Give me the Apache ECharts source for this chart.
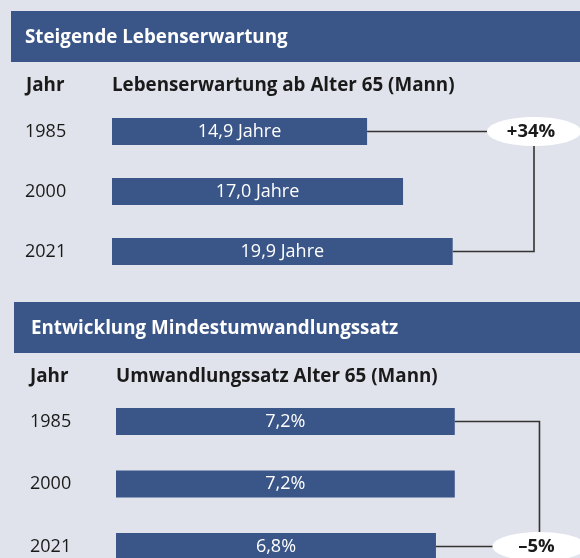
<!DOCTYPE html>
<html>
<head>
<meta charset="utf-8">
<script src="https://cdn.jsdelivr.net/npm/echarts@6/dist/echarts.min.js"></script>
<style>
  html, body { margin: 0; padding: 0; background: #e0e3eb; }
  #chart { width: 580px; height: 558px; }
</style>
</head>
<body>
<div id="chart"></div>
<script>
// Daten
var years = ["1985", "2000", "2021"];
var lifeExp = [14.9, 17.0, 19.9];      // Lebenserwartung ab 65 (Mann), Jahre
var convRate = [7.2, 7.2, 6.8];        // Mindestumwandlungssatz, %
var lifeChange = "+34%";
var convChange = "–5%";

var blue = "#3a5587";
var ink = "#1a1a1a";
var font = "Open Sans";
var headSize = 18.8;

function comma(v) {
  return v.toFixed(1).replace(".", ",");
}

// Klammer von Balken "from" zu Balken "to", Ellipse auf Zeile "at"
function bracket(values, bx, text, at) {
  return function (params, api) {
    var from = api.value(0), to = api.value(1);
    var a = api.coord([values[from], from]);
    var b = api.coord([values[to], to]);
    var x = api.coord([bx, 0])[0];
    var e = api.coord([bx, at]);
    return {
      type: "group",
      children: [
        {
          type: "polyline",
          shape: { points: [a, [x, a[1]], [x, b[1]], b] },
          style: { stroke: "#333", lineWidth: 1.6, fill: null }
        },
        {
          type: "ellipse",
          shape: { cx: e[0], cy: e[1], rx: 47, ry: 14.5 },
          style: { fill: "#fff" }
        },
        {
          type: "text",
          x: e[0] - 3, y: e[1],
          style: {
            text: text, fill: ink, fontFamily: font, fontWeight: "bold",
            fontSize: 18.5, align: "center", verticalAlign: "middle"
          }
        }
      ]
    };
  };
}

var chartDom = document.getElementById("chart");
var myChart = echarts.init(chartDom);

var option = {
  animation: false,
  backgroundColor: "#e0e3eb",
  textStyle: { fontFamily: font },
  grid: [
    { left: 112, top: 101.5, width: 428, height: 180, outerBoundsMode: "none", containLabel: false },
    { left: 116, top: 390.25, width: 447, height: 187.5, outerBoundsMode: "none", containLabel: false }
  ],
  xAxis: [
    { gridIndex: 0, type: "value", min: 0, max: 25, show: false },
    { gridIndex: 1, type: "value", min: 0, max: 9.5, show: false }
  ],
  yAxis: [
    {
      gridIndex: 0, type: "category", data: years, inverse: true,
      axisLine: { show: false }, axisTick: { show: false },
      axisLabel: { align: "left", margin: 87, fontSize: 18, color: ink, fontFamily: font }
    },
    {
      gridIndex: 1, type: "category", data: years, inverse: true,
      axisLine: { show: false }, axisTick: { show: false },
      axisLabel: { align: "left", margin: 86, fontSize: 18, color: ink, fontFamily: font }
    }
  ],
  graphic: [
    { type: "rect", left: 11, top: 11, shape: { width: 569, height: 51 }, style: { fill: blue } },
    { type: "text", left: 25, top: 28, style: { text: "Steigende Lebenserwartung", fill: "#fff", fontSize: headSize, fontWeight: "bold", fontFamily: font } },
    { type: "text", left: 26, top: 76, style: { text: "Jahr", fill: ink, fontSize: headSize, fontWeight: "bold", fontFamily: font } },
    { type: "text", left: 112, top: 76, style: { text: "Lebenserwartung ab Alter 65 (Mann)", fill: ink, fontSize: headSize, fontWeight: "bold", fontFamily: font } },

    { type: "rect", left: 14, top: 302, shape: { width: 566, height: 51 }, style: { fill: blue } },
    { type: "text", left: 31, top: 319, style: { text: "Entwicklung Mindestumwandlungssatz", fill: "#fff", fontSize: headSize, fontWeight: "bold", fontFamily: font } },
    { type: "text", left: 30, top: 367, style: { text: "Jahr", fill: ink, fontSize: headSize, fontWeight: "bold", fontFamily: font } },
    { type: "text", left: 116, top: 367, style: { text: "Umwandlungssatz Alter 65 (Mann)", fill: ink, fontSize: headSize, fontWeight: "bold", fontFamily: font } }
  ],
  series: [
    {
      type: "bar", xAxisIndex: 0, yAxisIndex: 0, data: lifeExp, barWidth: 27,
      itemStyle: { color: blue },
      label: {
        show: true, position: "inside", color: "#fff", fontSize: 18, fontFamily: font,
        formatter: function (p) { return comma(p.value) + " Jahre"; }
      }
    },
    {
      type: "bar", xAxisIndex: 1, yAxisIndex: 1, data: convRate, barWidth: 27,
      itemStyle: { color: blue },
      label: {
        show: true, position: "inside", color: "#fff", fontSize: 18, fontFamily: font,
        formatter: function (p) { return comma(p.value) + "%"; }
      }
    },
    {
      type: "custom", xAxisIndex: 0, yAxisIndex: 0, z: 1,
      renderItem: bracket(lifeExp, 24.65, lifeChange, 0),
      data: [[0, 2]]
    },
    {
      type: "custom", xAxisIndex: 1, yAxisIndex: 1, z: 1,
      renderItem: bracket(convRate, 9.0, convChange, 2),
      data: [[0, 2]]
    }
  ]
};

option && myChart.setOption(option);
</script>
</body>
</html>
